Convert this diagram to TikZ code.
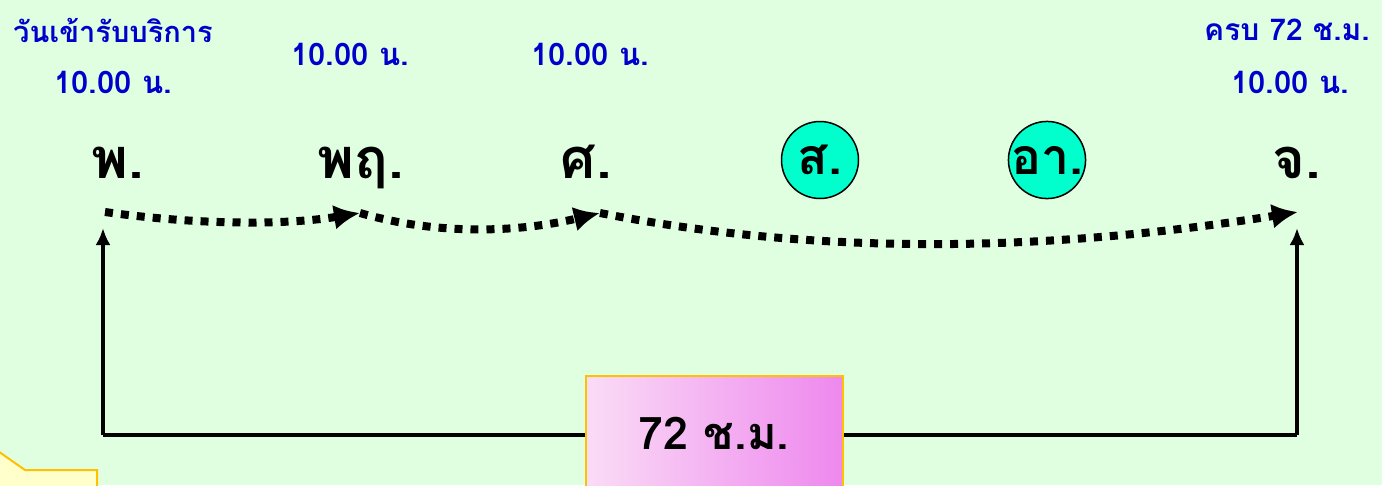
\documentclass[tikz,border=0pt]{standalone}
\usepackage{fontspec}
\setmainfont[Script=Thai]{Loma}
\usetikzlibrary{arrows.meta,shapes.geometric}
\definecolor{bg}{RGB}{224,255,224}
\definecolor{txtblue}{RGB}{0,0,204}
\definecolor{aqua}{RGB}{0,255,204}
\definecolor{boxedge}{RGB}{255,192,0}
\definecolor{pinkL}{RGB}{250,220,246}
\definecolor{pinkR}{RGB}{238,136,238}
\definecolor{calloutfill}{RGB}{255,255,204}
\tikzset{
  bluelabel/.style={text=txtblue,font=\fontsize{31}{35}\selectfont\bfseries,inner sep=0pt},
  daylabel/.style={text=black,font=\fontsize{56}{60}\selectfont\bfseries,inner sep=0pt,anchor=base},
  daycircle/.style={text=black,font=\fontsize{50}{54}\selectfont\bfseries,circle,draw=black,line width=1.5pt,fill=aqua,minimum size=77pt,inner sep=0pt},
  dotline/.style={line width=8pt,dash pattern=on 8pt off 8pt,-{Latex[length=26pt,width=25pt]}},
  spanline/.style={line width=3.5pt},
  spanarrow/.style={line width=3.5pt,-{Latex[length=17pt,width=15pt]}},
  hourbox/.style={draw=boxedge,line width=2pt,left color=pinkL,right color=pinkR,
    minimum width=257pt,minimum height=118pt,inner sep=0pt}
}
\begin{document}
\begin{tikzpicture}[x=1pt,y=-1pt]
\useasboundingbox (0,0) rectangle (1382,485);
\clip (0,0) rectangle (1382,485);
\fill[bg] (0,0) rectangle (1382,485);
% callout fragment bottom-left
\filldraw[fill=calloutfill,draw=boxedge,line width=2pt] (-5,449) -- (25,470) -- (97,470) -- (97,495) -- (-5,495) -- cycle;
% top labels
\node[bluelabel,font=\fontsize{29}{33}\selectfont\bfseries] (start) at (113,30) {วันเข้ารับบริการ};
\node[bluelabel] (t1) at (113,82) {10.00 น.};
\node[bluelabel] (t2) at (350,54) {10.00 น.};
\node[bluelabel] (t3) at (590,54) {10.00 น.};
\node[bluelabel,font=\fontsize{30}{34}\selectfont\bfseries] (end) at (1287,30) {ครบ 72 ช.ม.};
\node[bluelabel] (t4) at (1290,82) {10.00 น.};
% days
\node[daylabel] (wed) at (118,178) {พ.};
\node[daylabel] (thu) at (361,178) {พฤ.};
\node[daylabel] (fri) at (586,178) {ศ.};
\node[daycircle] (sat) at (820,160) {ส.};
\node[daycircle] (sun) at (1047,160) {อา.};
\node[daylabel] (mon) at (1297,178) {จ.};
% dotted connectors
\coordinate (d0) at (105,212);
\coordinate (d1) at (360,213);
\coordinate (d2) at (600,213);
\coordinate (d3) at (1298,212);
\draw[dotline] (d0) .. controls (190,224) and (280,226) .. (d1);
\draw[dotline] (d1) .. controls (440,236) and (520,232) .. (d2);
\draw[dotline] (d2) .. controls (830,258) and (1060,250) .. (d3);
% span
\coordinate (bl) at (103,435);
\coordinate (tl) at (103,228);
\coordinate (br) at (1297,435);
\coordinate (tr) at (1297,228);
\node[hourbox] (box) at (714.5,435) {};
\node[font=\fontsize{45}{49}\selectfont\bfseries,inner sep=0pt] (boxtxt) at (714,433) {72 ช.ม.};
\draw[spanarrow] (bl) -- (tl);
\draw[spanarrow] (br) -- (tr);
\draw[spanline] (bl) -- (box.west |- bl);
\draw[spanline] (box.east |- br) -- (br);
\end{tikzpicture}
\end{document}
